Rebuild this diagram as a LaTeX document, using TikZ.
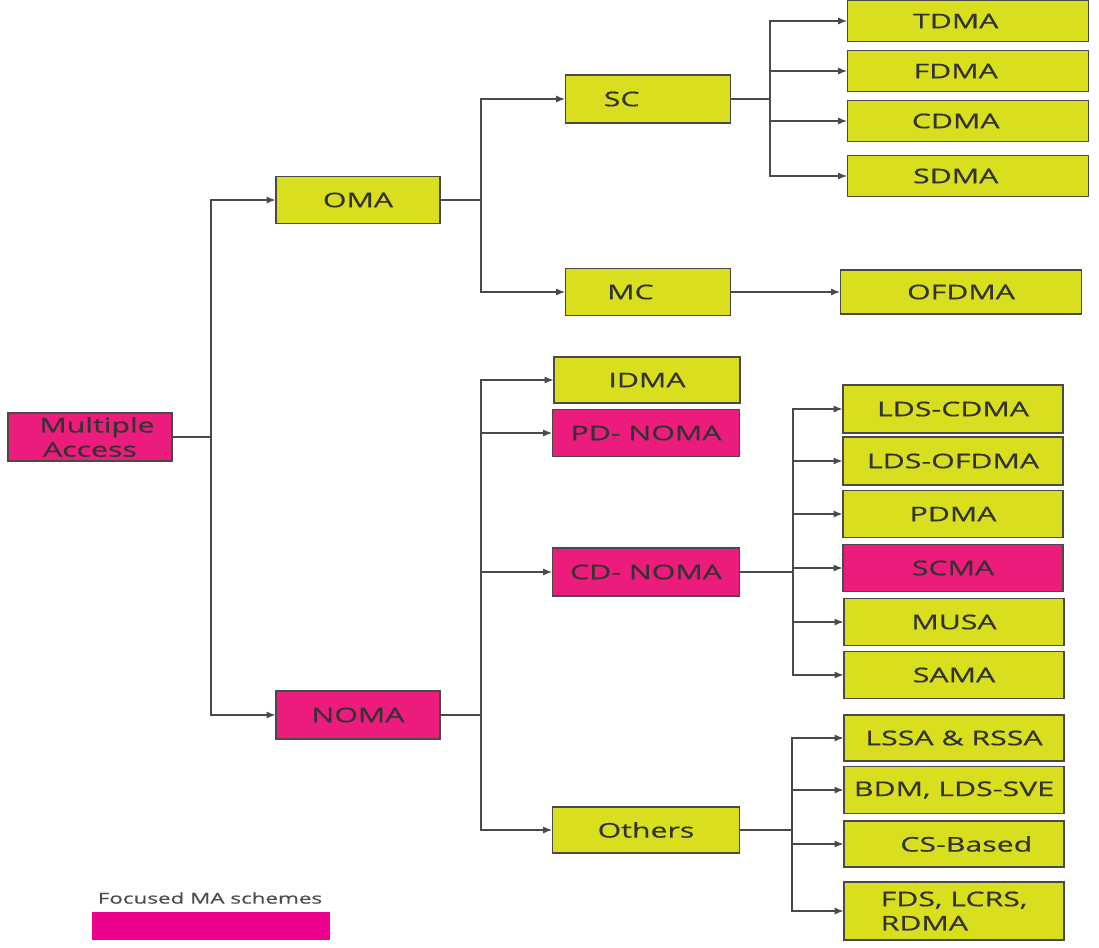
\documentclass[tikz,border=0pt]{standalone}
\usepackage{fontspec}
\setmainfont{Open Sans}[FakeStretch=1.5, FakeBold=0.6]
\usetikzlibrary{arrows.meta}

\definecolor{limebox}{HTML}{D9DF1F}
\definecolor{pinkbox}{HTML}{EC1C7C}
\definecolor{pinkkey}{HTML}{EC008C}
\definecolor{edgegrey}{HTML}{4A4A4A}

\begin{document}
\begin{tikzpicture}[x=0.02cm, y=-0.02cm,
    box/.style={draw=edgegrey, line width=0.7pt, fill=limebox, inner sep=1pt,
        font=\fontsize{11.5}{13.8}\selectfont, text=black!80, align=center},
    focus/.style={box, fill=pinkbox},
    link/.style={draw=edgegrey, line width=0.6pt},
    arr/.style={link, -{Latex[length=5pt,width=4pt]}},
    trunk/.style={draw=edgegrey, line width=1.3pt}]
    \useasboundingbox (0,0) rectangle (1099,947);
    % root and first level
    \node[focus, minimum width=3.28cm, minimum height=0.96cm] (ma) at (90,437) {\hspace{8pt}Multiple\\Access};
    \node[box, minimum width=3.28cm, minimum height=0.94cm] (oma) at (358,200) {OMA};
    \node[focus, minimum width=3.28cm, minimum height=0.96cm] (noma) at (358,715) {NOMA};
    % OMA branch
    \node[box, minimum width=3.3cm, minimum height=0.96cm] (sc) at (648,99) {\hspace{-30pt}SC};
    \node[box, minimum width=3.3cm, minimum height=0.94cm] (mc) at (648,292) {\hspace{-20pt}MC};
    \node[box, minimum width=4.82cm, minimum height=0.88cm] (ofdma) at (961,292) {OFDMA};
    \node[box, minimum width=4.82cm, minimum height=0.82cm] (tdma) at (968,21) {\hspace{-14pt}TDMA};
    \node[box, minimum width=4.82cm, minimum height=0.82cm] (fdma) at (968,71) {\hspace{-14pt}FDMA};
    \node[box, minimum width=4.82cm, minimum height=0.82cm] (cdma) at (968,121) {\hspace{-14pt}CDMA};
    \node[box, minimum width=4.82cm, minimum height=0.82cm] (sdma) at (968,176) {\hspace{-14pt}SDMA};
    % NOMA branch
    \node[box, minimum width=3.72cm, minimum height=0.92cm] (idma) at (647,380) {IDMA};
    \node[focus, minimum width=3.74cm, minimum height=0.94cm] (pdnoma) at (646,433) {PD- NOMA};
    \node[focus, minimum width=3.74cm, minimum height=0.96cm] (cdnoma) at (646,572) {CD- NOMA};
    \node[box, minimum width=3.74cm, minimum height=0.92cm] (others) at (646,830) {Others};
    % CD-NOMA schemes
    \node[box, minimum width=4.4cm, minimum height=0.96cm] (ldscdma) at (953,409) {LDS-CDMA};
    \node[box, minimum width=4.4cm, minimum height=0.96cm] (ldsofdma) at (953,461) {LDS-OFDMA};
    \node[box, minimum width=4.4cm, minimum height=0.94cm] (pdma) at (953,514) {PDMA};
    \node[focus, minimum width=4.4cm, minimum height=0.94cm] (scma) at (953,568) {SCMA};
    \node[box, minimum width=4.4cm, minimum height=0.94cm] (musa) at (954,622) {MUSA};
    \node[box, minimum width=4.4cm, minimum height=0.94cm] (sama) at (954,675) {SAMA};
    % other schemes
    \node[box, minimum width=4.4cm, minimum height=0.92cm] (lssa) at (954,738) {LSSA \& RSSA};
    \node[box, minimum width=4.4cm, minimum height=0.94cm] (bdm) at (954,790) {BDM, LDS-SVE};
    \node[box, minimum width=4.4cm, minimum height=0.92cm] (csb) at (954,844) {\hspace{14pt}CS-Based};
    \node[box, align=left, minimum width=4.4cm, minimum height=1.16cm] (fds) at (954,911) {FDS, LCRS,\\RDMA};
    % legend
    \node[font=\fontsize{8.5}{9}\selectfont, text=black!70] (keytext) at (210,898) {Focused MA schemes};
    \node[fill=pinkkey, minimum width=4.76cm, minimum height=0.56cm, inner sep=0pt] (keybar) at (211,926) {};

    % junctions
    \coordinate (jma) at (211,437);
    \coordinate (joma) at (481,200);
    \coordinate (jnoma) at (481,715);
    \coordinate (jsc) at (770,99);
    \coordinate (jcd) at (793,572);
    \coordinate (joth) at (792,830);

    \draw[link] (ma.east) -- (jma);
    \draw[trunk] (jma |- oma.west) -- (jma |- noma.west);
    \draw[arr] (jma) |- (oma.west);
    \draw[arr] (jma) |- (noma.west);

    \draw[link] (oma.east) -- (joma);
    \draw[trunk] (joma |- sc.west) -- (joma |- mc.west);
    \draw[arr] (joma) |- (sc.west);
    \draw[arr] (joma) |- (mc.west);
    \draw[arr] (mc.east) -- (ofdma.west);

    \draw[link] (sc.east) -- (jsc);
    \draw[trunk] (jsc |- tdma.west) -- (jsc |- sdma.west);
    \foreach \k in {tdma, fdma, cdma, sdma}
        \draw[arr] (jsc) |- (\k.west);

    \draw[link] (noma.east) -- (jnoma);
    \draw[trunk] (jnoma |- idma.west) -- (jnoma |- others.west);
    \foreach \k in {idma, pdnoma, cdnoma, others}
        \draw[arr] (jnoma) |- (\k.west);

    \draw[link] (cdnoma.east) -- (jcd);
    \draw[trunk] (jcd |- ldscdma.west) -- (jcd |- sama.west);
    \foreach \k in {ldscdma, ldsofdma, pdma, scma, musa, sama}
        \draw[arr] (jcd) |- (\k.west);

    \draw[link] (others.east) -- (joth);
    \draw[trunk] (joth |- lssa.west) -- (joth |- fds.west);
    \foreach \k in {lssa, bdm, csb, fds}
        \draw[arr] (joth) |- (\k.west);
\end{tikzpicture}
\end{document}
